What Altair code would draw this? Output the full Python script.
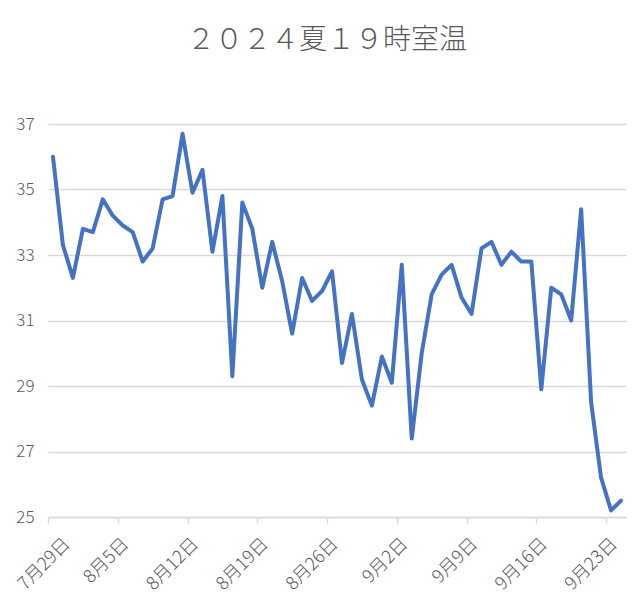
import altair as alt
import pandas as pd

TITLE = "２０２４夏１９時室温"
START = "2024-07-29"
temps = [
    36.0, 33.3, 32.3, 33.8, 33.7, 34.7, 34.2, 33.9, 33.7, 32.8,
    33.2, 34.7, 34.8, 36.7, 34.9, 35.6, 33.1, 34.8, 29.3, 34.6,
    33.8, 32.0, 33.4, 32.2, 30.6, 32.3, 31.6, 31.9, 32.5, 29.7,
    31.2, 29.2, 28.4, 29.9, 29.1, 32.7, 27.4, 30.0, 31.8, 32.4,
    32.7, 31.7, 31.2, 33.2, 33.4, 32.7, 33.1, 32.8, 32.8, 28.9,
    32.0, 31.8, 31.0, 34.4, 28.5, 26.2, 25.2, 25.5,
]
y_ticks = [25, 27, 29, 31, 33, 35, 37]
x_tick_days = [(7, 29), (8, 5), (8, 12), (8, 19), (8, 26), (9, 2), (9, 9), (9, 16), (9, 23)]

dates = pd.date_range(START, periods=len(temps), freq="D") + pd.Timedelta(hours=12)
df = pd.DataFrame({"date": dates.strftime("%Y-%m-%dT%H:%M:%SZ"), "temp": temps})

FONT = "Noto Sans CJK JP"
GRAY = "#d9d9d9"
TXT = "#595959"

x_values = [alt.DateTime(year=2024, month=m, date=d, utc=True) for m, d in x_tick_days]

chart = alt.Chart(df).mark_line(
    color="#4472C4", strokeWidth=4, strokeJoin="round", strokeCap="round"
).encode(
    x=alt.X(
        "date:T",
        scale=alt.Scale(
            type="utc",
            domain=[
                alt.DateTime(year=2024, month=7, date=29, utc=True),
                alt.DateTime(year=2024, month=9, date=25, utc=True),
            ],
            nice=False,
        ),
        axis=alt.Axis(
            title=None,
            values=x_values,
            labelExpr="(utcmonth(datum.value)+1) + '月' + utcdate(datum.value) + '日'",
            labelAngle=-45,
            labelAlign="right",
            labelBaseline="middle",
            labelPadding=18,
            labelOffset={
                "condition": {"test": "utcmonth(datum.value) == 6", "value": 19},
                "value": 8,
            },
            labelFontSize=18,
            labelFont=FONT,
            labelFontWeight=300,
            labelColor=TXT,
            grid=False,
            domainColor=GRAY,
            domainWidth=1.5,
            tickColor=GRAY,
            tickWidth=1.5,
            tickSize=6,
            labelFlush=False,
            labelOverlap=False,
            labelBound=False,
        ),
    ),
    y=alt.Y(
        "temp:Q",
        scale=alt.Scale(domain=[25, 37], nice=False, zero=False),
        axis=alt.Axis(
            title=None,
            values=y_ticks,
            ticks=False,
            domain=False,
            labelPadding=14,
            labelFontSize=17,
            labelFont=FONT,
            labelFontWeight=300,
            labelColor=TXT,
            gridColor=GRAY,
            gridWidth=1.5,
        ),
    ),
).properties(
    width=578,
    height=393,
    autosize=alt.AutoSizeParams(type="none"),
    padding={"left": 40, "top": 116, "right": 5, "bottom": 80},
    title=alt.TitleParams(
        TITLE,
        font=FONT,
        fontSize=28,
        fontWeight=300,
        color=TXT,
        anchor="middle",
        dx=-10,
        offset=60,
    ),
).configure_view(stroke=None)

chart.save("out.html", embed_options={"renderer": "svg", "actions": False})
